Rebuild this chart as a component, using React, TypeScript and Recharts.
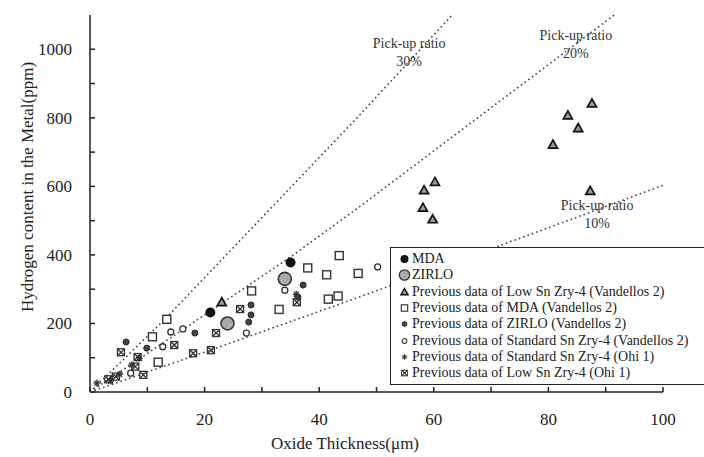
import React from "react";
import {
  ScatterChart,
  Scatter,
  XAxis,
  YAxis,
  Legend,
  Label,
  ReferenceDot,
} from "recharts";

const FONT = "'Liberation Serif', 'Times New Roman', serif";
const INK = "#222";

// [oxide thickness (um), hydrogen (ppm)]
const mdaPoints = [
  [21, 232],
  [35, 378],
];
const zirloPoints = [
  [24, 200],
  [34, 330],
];
const lowSnVandellos = [
  [23, 262],
  [58.1, 538],
  [58.3, 589],
  [59.8, 504],
  [60.2, 613],
  [80.8, 722],
  [83.4, 807],
  [85.2, 770],
  [87.6, 842],
  [87.3, 587],
];
const prevMdaVandellos = [
  [10.9, 161],
  [11.9, 87],
  [13.4, 212],
  [28.2, 295],
  [33, 241],
  [38, 362],
  [41.3, 342],
  [43.5, 398],
  [41.6, 271],
  [43.3, 280],
  [46.8, 346],
];
const prevZirloVandellos = [
  [6.3, 146],
  [9.9, 128],
  [18.3, 172],
  [28.1, 254],
  [28.1, 225],
  [27.7, 204],
  [36.3, 277],
  [37.2, 312],
];
const stdSnVandellos = [
  [7.1, 55],
  [12.7, 132],
  [14.1, 175],
  [16.2, 184],
  [27.3, 172],
  [34, 297],
  [50.2, 365],
];
const stdSnOhi = [
  [1.2, 26],
  [3.6, 32],
  [5.2, 52],
  [7.3, 79],
  [8.6, 99],
  [36, 285],
];
const lowSnOhi = [
  [3.2, 37],
  [4.5, 45],
  [5.4, 116],
  [7.9, 74],
  [8.3, 102],
  [9.3, 50],
  [14.7, 137],
  [18, 113],
  [21.1, 122],
  [22, 172],
  [26.2, 242],
  [36.1, 262],
];

// pick-up ratio guide lines
const ratio30 = [
  [0, 0],
  [13.4, 218],
  [27.9, 472],
  [47, 807],
  [63.2, 1100],
];
const ratio20 = [
  [0, 0],
  [20, 225],
  [35, 394],
  [47, 540],
  [80.3, 959],
  [91.5, 1100],
];
const ratio10 = [
  [0, 0],
  [21, 122],
  [47, 277],
  [80.3, 481],
  [100, 603],
];

const ratioLabels = [
  { x: 55.7, y: 991, text: "30%" },
  { x: 84.8, y: 1016, text: "20%" },
  { x: 88.5, y: 519, text: "10%" },
];

const xTicks = [0, 10, 20, 30, 40, 50, 60, 70, 80, 90, 100];
const yTicks = [0, 100, 200, 300, 400, 500, 600, 700, 800, 900, 1000];

const toRows = (pts: number[][]) => pts.map(([x, y]) => ({ x, y }));

// marker drawings
const Mda = ({ cx, cy }: any) => <circle cx={cx} cy={cy} r={5} fill="#111" />;
const Zirlo = ({ cx, cy }: any) => (
  <circle cx={cx} cy={cy} r={6.5} fill="#aaa" stroke="#333" strokeWidth={1.6} />
);
const Tri = ({ cx, cy }: any) => (
  <path
    d={`M${cx},${cy - 4.5} L${cx + 4.5},${cy + 3.5} L${cx - 4.5},${cy + 3.5} Z`}
    fill="#999"
    stroke="#111"
    strokeWidth={1.7}
  />
);
const Sq = ({ cx, cy }: any) => (
  <rect x={cx - 4} y={cy - 4} width={8} height={8} fill="#fff" stroke="#333" strokeWidth={1.4} />
);
const SmallDot = ({ cx, cy }: any) => (
  <circle cx={cx} cy={cy} r={3} fill="#444" stroke="#222" strokeWidth={1} />
);
const OpenDot = ({ cx, cy }: any) => (
  <circle cx={cx} cy={cy} r={3} fill="#fff" stroke="#333" strokeWidth={1.3} />
);
const Star = ({ cx, cy }: any) => (
  <g stroke="#333" strokeWidth={1.3}>
    <line x1={cx - 3.5} y1={cy} x2={cx + 3.5} y2={cy} />
    <line x1={cx} y1={cy - 3.5} x2={cx} y2={cy + 3.5} />
    <line x1={cx - 2.5} y1={cy - 2.5} x2={cx + 2.5} y2={cy + 2.5} />
    <line x1={cx - 2.5} y1={cy + 2.5} x2={cx + 2.5} y2={cy - 2.5} />
  </g>
);
const XSq = ({ cx, cy }: any) => (
  <g stroke="#333" strokeWidth={1.3} fill="none">
    <rect x={cx - 3.5} y={cy - 3.5} width={7} height={7} />
    <line x1={cx - 3.5} y1={cy - 3.5} x2={cx + 3.5} y2={cy + 3.5} />
    <line x1={cx - 3.5} y1={cy + 3.5} x2={cx + 3.5} y2={cy - 3.5} />
  </g>
);
const NoShape = () => <g />;

const SERIES = [
  { name: "MDA", data: mdaPoints, shape: Mda },
  { name: "ZIRLO", data: zirloPoints, shape: Zirlo },
  { name: "Previous data of Low Sn Zry-4 (Vandellos 2)", data: lowSnVandellos, shape: Tri },
  { name: "Previous data of MDA (Vandellos 2)", data: prevMdaVandellos, shape: Sq },
  { name: "Previous data of ZIRLO (Vandellos 2)", data: prevZirloVandellos, shape: SmallDot },
  { name: "Previous data of Standard Sn Zry-4 (Vandellos 2)", data: stdSnVandellos, shape: OpenDot },
  { name: "Previous data of Standard Sn Zry-4 (Ohi 1)", data: stdSnOhi, shape: Star },
  { name: "Previous data of Low Sn Zry-4 (Ohi 1)", data: lowSnOhi, shape: XSq },
];

const LegendBox = () => (
  <div
    style={{
      background: "#fff",
      border: "1.5px solid #222",
      width: 330,
      padding: "3px 0 3px 7px",
      fontFamily: FONT,
      fontSize: 14,
      color: INK,
      boxSizing: "border-box",
    }}
  >
    {SERIES.map((s) => {
      const Shape = s.shape;
      return (
        <div key={s.name} style={{ display: "flex", alignItems: "center", height: 16.3, whiteSpace: "nowrap" }}>
          <svg width={13} height={14} style={{ flex: "none" }}>
            <g transform="scale(0.8)" style={{ transformOrigin: "6.5px 7px" }}>
              <Shape cx={6.5} cy={7} />
            </g>
          </svg>
          <span style={{ marginLeft: 1 }}>{s.name}</span>
        </div>
      );
    })}
  </div>
);

const ratioLabel = (text: string) => (props: any) => {
  const vb = props.viewBox || {};
  const cx = (vb.x ?? 0) + (vb.width ?? 0) / 2;
  const cy = (vb.y ?? 0) + (vb.height ?? 0) / 2;
  return (
    <text x={cx} textAnchor="middle" fontFamily={FONT} fontSize={14} fill="#333">
      <tspan x={cx} y={cy - 4}>Pick-up ratio</tspan>
      <tspan x={cx} y={cy + 14}>{text}</tspan>
    </text>
  );
};

export default function App() {
  const guide = { stroke: "#444", strokeWidth: 1.6, strokeDasharray: "1.6 3" };
  return (
    <div style={{ position: "absolute", left: 0, top: 0, width: 704, height: 457, overflow: "hidden", background: "#fff" }}>
      <ScatterChart width={704} height={457} margin={{ top: 15, right: 41, bottom: 5, left: 10 }}>
        <XAxis
          xAxisId="b"
          type="number"
          dataKey="x"
          domain={[0, 100]}
          ticks={xTicks}
          tickFormatter={(v) => (v % 20 === 0 ? String(v) : "")}
          tickSize={-5}
          tickMargin={26}
          height={60}
          stroke="#222"
          strokeWidth={1.5}
          tick={{ fill: INK, fontFamily: FONT, fontSize: 17 }}
        >
          <Label
            content={() => (
              <text x={345} y={449} textAnchor="middle" fontFamily={FONT} fontSize={17} fill={INK}>
                Oxide Thickness(μm)
              </text>
            )}
          />
        </XAxis>
        <XAxis
          xAxisId="t"
          orientation="top"
          type="number"
          dataKey="x"
          domain={[0, 100]}
          height={0}
          tick={false}
          tickLine={false}
          stroke="#222"
          strokeWidth={1.8}
        />
        <YAxis
          yAxisId="l"
          type="number"
          dataKey="y"
          domain={[0, 1100]}
          ticks={yTicks}
          tickFormatter={(v) => (v % 200 === 0 ? String(v) : "")}
          tickSize={-5}
          tickMargin={23}
          width={80}
          stroke="#222"
          strokeWidth={1.5}
          tick={{ fill: INK, fontFamily: FONT, fontSize: 17 }}
        >
          <Label
            content={() => (
              <text
                transform="translate(27,187) rotate(-90)"
                textAnchor="middle"
                dominantBaseline="central"
                fontFamily={FONT}
                fontSize={17}
                fill={INK}
              >
                Hydrogen content in the Metal(ppm)
              </text>
            )}
          />
        </YAxis>
        <YAxis
          yAxisId="r"
          orientation="right"
          type="number"
          dataKey="y"
          domain={[0, 1100]}
          width={0}
          tick={false}
          tickLine={false}
          stroke="#222"
          strokeWidth={1.8}
        />

        {[ratio30, ratio20, ratio10].map((pts, i) => (
          <Scatter
            key={"ratio" + i}
            xAxisId="b"
            yAxisId="l"
            data={toRows(pts)}
            line={guide}
            lineType="joint"
            shape={NoShape}
            legendType="none"
            isAnimationActive={false}
          />
        ))}

        {SERIES.map((s) => (
          <Scatter
            key={s.name}
            name={s.name}
            xAxisId="b"
            yAxisId="l"
            data={toRows(s.data)}
            shape={s.shape}
            isAnimationActive={false}
          />
        ))}

        {ratioLabels.map((r) => (
          <ReferenceDot
            key={r.text}
            xAxisId="b"
            yAxisId="l"
            x={r.x}
            y={r.y}
            r={0}
            fill="none"
            stroke="none"
            label={ratioLabel(r.text)}
          />
        ))}

        <Legend
          layout="vertical"
          align="center"
          verticalAlign="middle"
          content={() => <LegendBox />}
          wrapperStyle={{ left: 390, top: 247, width: 330, height: 137 }}
        />
      </ScatterChart>
    </div>
  );
}
